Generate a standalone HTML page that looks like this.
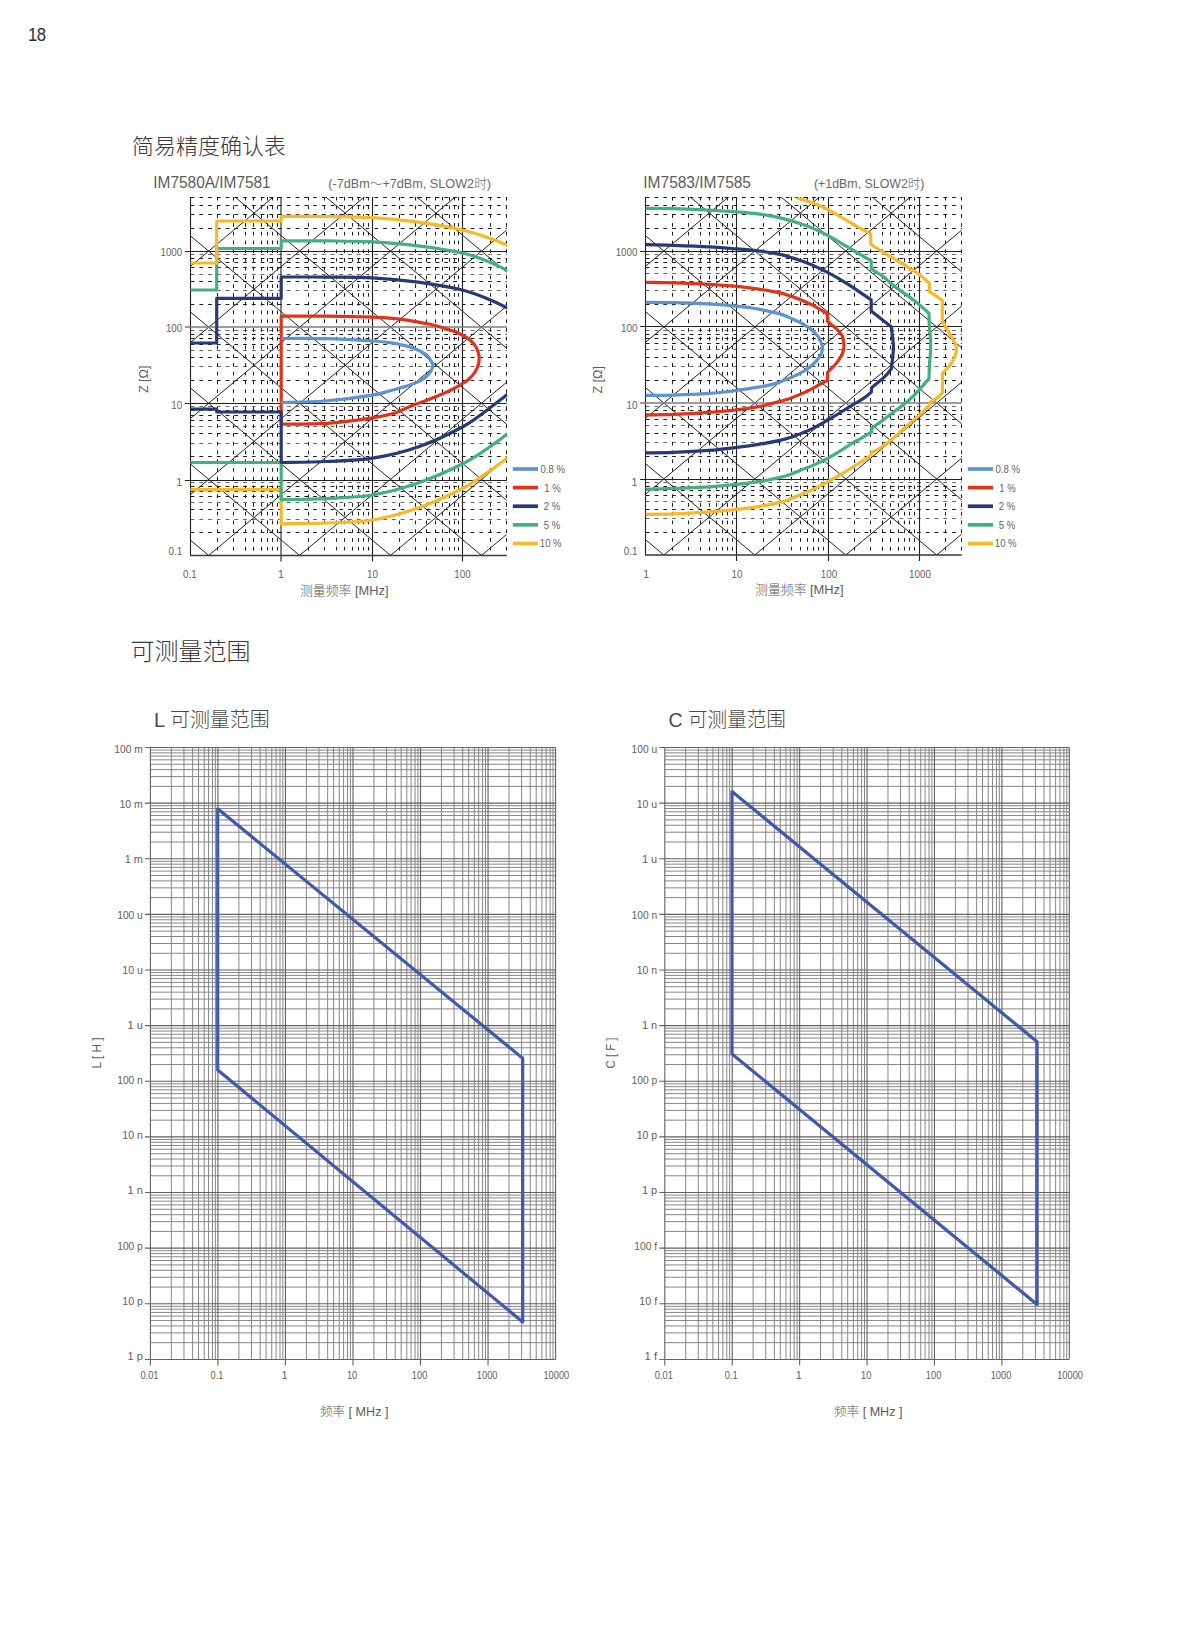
<!DOCTYPE html>
<html lang="zh-CN"><head><meta charset="utf-8"><title>简易精度确认表 / 可测量范围</title>
<style>
html,body{margin:0;padding:0;background:#fff;}
body{width:1199px;height:1627px;overflow:hidden;font-family:"Liberation Sans", "Noto Sans CJK SC", sans-serif;}
.page{position:relative;width:1199px;height:1627px;background:#fff;overflow:hidden;}
.pn{position:absolute;left:27.5px;top:21px;font-size:18px;line-height:28px;color:#2e2e2e;letter-spacing:-0.5px;transform:scaleX(0.93);transform-origin:0 0;}
h2{position:absolute;margin:0;font-weight:300;line-height:30px;color:#383838;white-space:nowrap;}
h2.a{left:132px;top:132.2px;font-size:22px;}h2.b{left:130.6px;top:637.4px;font-size:24px;}
svg{position:absolute;left:0;top:0;}
svg text{font-family:"Liberation Sans", "Noto Sans CJK SC", sans-serif;font-weight:300;}
.tk{font-size:10.7px;fill:#626262;}
.lg{font-size:10.6px;fill:#646464;}
.ax{font-size:12.6px;fill:#5e5e5e;}
.tt{font-size:16px;fill:#5c5c5c;}
.st{font-size:12.8px;fill:#686868;}
.tk2{font-size:10.9px;fill:#5e5e5e;}
.ax2{font-size:12.4px;fill:#5c5c5c;}
.bt{font-size:20px;fill:#4a4a4a;}
</style></head><body>
<div class="page">
<div class="pn">18</div>
<h2 class="a">简易精度确认表</h2>
<h2 class="b">可测量范围</h2>
<svg width="1199" height="1627" viewBox="0 0 1199 1627">
<g id="acc1">
<clipPath id="cp1"><rect x="190.3" y="197" width="317" height="358.5"/></clipPath>
<path d="M190.3 532.5H506.8M190.3 509.5H506.8M190.3 496.5H506.8M190.3 491.5H506.8M190.3 486.5H506.8M190.3 456.5H506.8M190.3 433.5H506.8M190.3 420.5H506.8M190.3 415.5H506.8M190.3 410.5H506.8M190.3 380.5H506.8M190.3 357.5H506.8M190.3 344.5H506.8M190.3 338.5H506.8M190.3 334.5H506.8M190.3 304.5H506.8M190.3 281.5H506.8M190.3 267.5H506.8M190.3 262.5H506.8M190.3 258.5H506.8M190.3 228.5H506.8M190.3 214.5H506.8M190.3 205.5H506.8M190.3 197.5H506.8" stroke="#1c1c1c" stroke-width="1" stroke-dasharray="3.8 4.95" stroke-dashoffset="-0.3" fill="none"/>
<path d="M190.3 519.5H506.8M190.3 502.5H506.8M190.3 482.5H506.8M190.3 443.5H506.8M190.3 426.5H506.8M190.3 406.5H506.8M190.3 366.5H506.8M190.3 350.5H506.8M190.3 330.5H506.8M190.3 290.5H506.8M190.3 274.5H506.8M190.3 254.5H506.8" stroke="#666" stroke-width="1.15" stroke-dasharray="3.8 4.95" stroke-dashoffset="-0.3" fill="none"/>
<path d="M217.5 197V555.5M233.5 197V555.5M245.5 197V555.5M253.5 197V555.5M261.5 197V555.5M267.5 197V555.5M272.5 197V555.5M277.5 197V555.5M308.5 197V555.5M324.5 197V555.5M336.5 197V555.5M344.5 197V555.5M352.5 197V555.5M358.5 197V555.5M363.5 197V555.5M368.5 197V555.5M399.5 197V555.5M415.5 197V555.5M426.5 197V555.5M435.5 197V555.5M442.5 197V555.5M449.5 197V555.5M454.5 197V555.5M458.5 197V555.5M490.5 197V555.5M506.5 197V555.5" stroke="#1c1c1c" stroke-width="1" stroke-dasharray="3.7 5.05" stroke-dashoffset="0.2" fill="none"/>
<path d="M190.3 -342.19L506.54 -606.72M190.3 844.39L506.54 1108.92M190.3 -266.11L506.54 -530.64M190.3 768.31L506.54 1032.84M190.3 -190.03L506.54 -454.56M190.3 692.23L506.54 956.76M190.3 -113.95L506.54 -378.48M190.3 616.15L506.54 880.68M190.3 -37.87L506.54 -302.4M190.3 540.07L506.54 804.6M190.3 38.21L506.54 -226.32M190.3 463.99L506.54 728.52M190.3 114.29L506.54 -150.24M190.3 387.91L506.54 652.44M190.3 190.37L506.54 -74.16M190.3 311.83L506.54 576.36M190.3 266.45L506.54 1.92M190.3 235.75L506.54 500.28M190.3 342.53L506.54 78M190.3 159.67L506.54 424.2M190.3 418.61L506.54 154.08M190.3 83.59L506.54 348.12M190.3 494.69L506.54 230.16M190.3 7.51L506.54 272.04M190.3 570.77L506.54 306.24M190.3 -68.57L506.54 195.96M190.3 646.85L506.54 382.32M190.3 -144.65L506.54 119.88M190.3 722.93L506.54 458.4M190.3 -220.73L506.54 43.8M190.3 799.01L506.54 534.48M190.3 -296.81L506.54 -32.28M190.3 875.09L506.54 610.56M190.3 -372.89L506.54 -108.36" stroke="#242424" stroke-width="1" fill="none" clip-path="url(#cp1)"/>
<path d="M184.8 480.5H506.8M184.8 403.5H506.8M184.8 251.5H506.8M281 197V561.5M372.5 197V561.5M462.5 197V561.5M190.5 197V556" stroke="#222" stroke-width="1.1" fill="none"/>
<path d="M184.8 327H506.8" stroke="#7d7d7d" stroke-width="1.7" fill="none"/>
<path d="M190.3 555.5H506.8" stroke="#3a3a3a" stroke-width="1.3" fill="none"/>
<g fill="none" stroke-width="3.2" stroke-linejoin="round" clip-path="url(#cp1)">
<path d="M190.3 489.6L281.2 489.6L281.2 523.8C288.83 523.67 311.78 523.63 327 523C342.22 522.37 357.33 522.5 372.5 520C387.67 517.5 402.88 513.33 418 508C433.12 502.67 451.03 494.33 463.2 488C475.37 481.67 483.62 475.03 491 470C498.38 464.97 504.75 459.83 507.5 457.8" stroke="#f7b925"/>
<path d="M190.3 462.5L281.2 462.5L281.2 499.7C288.83 499.52 311.78 499.38 327 498.6C342.22 497.82 357.33 497.6 372.5 495C387.67 492.4 402.88 488.25 418 483C433.12 477.75 451.03 469.67 463.2 463.5C475.37 457.33 483.62 450.95 491 446C498.38 441.05 504.75 435.83 507.5 433.8" stroke="#43b07f"/>
<path d="M281.2 424.2L281.2 316L281.2 316C288.83 316.03 311.78 316 327 316.2C342.22 316.4 361.17 316.8 372.5 317.2C383.83 317.6 388.75 318.03 395 318.6C401.25 319.17 404.17 319.65 410 320.6C415.83 321.55 423.33 322.73 430 324.3C436.67 325.87 444.58 328.18 450 330C455.42 331.82 459.17 333.53 462.5 335.2C465.83 336.87 467.75 338.03 470 340C472.25 341.97 474.5 344.33 476 347C477.5 349.67 478.58 353.17 479 356C479.42 358.83 479.17 361.33 478.5 364C477.83 366.67 476.58 369.5 475 372C473.42 374.5 471.08 377.08 469 379C466.92 380.92 465.67 381.58 462.5 383.5C459.33 385.42 455.42 387.92 450 390.5C444.58 393.08 436.67 396.33 430 399C423.33 401.67 415.83 404.17 410 406.5C404.17 408.83 401.25 411.12 395 413C388.75 414.88 383.83 416.08 372.5 417.8C361.17 419.52 342.22 422.23 327 423.3C311.78 424.37 288.83 424.05 281.2 424.2" stroke="#e3321a"/>
<path d="M190.3 409.2L216.7 409.2L216.7 412L281.2 412L281.2 462.5C288.83 462.33 311.78 462.22 327 461.5C342.22 460.78 357.33 460.62 372.5 458.2C387.67 455.78 402.88 452.28 418 447C433.12 441.72 451.03 433.17 463.2 426.5C475.37 419.83 483.62 412.37 491 407C498.38 401.63 504.75 396.42 507.5 394.3" stroke="#273a74"/>
<path d="M281.2 338.5C288.5 338.53 309.78 338.28 325 338.7C340.22 339.12 361.67 340.33 372.5 341C383.33 341.67 385.42 342.12 390 342.7C394.58 343.28 396.67 343.78 400 344.5C403.33 345.22 406.67 345.92 410 347C413.33 348.08 417.17 349.58 420 351C422.83 352.42 425.17 353.83 427 355.5C428.83 357.17 430.03 359.33 431 361C431.97 362.67 432.8 363.83 432.8 365.5C432.8 367.17 431.97 369.25 431 371C430.03 372.75 428.83 374.37 427 376C425.17 377.63 422.83 379.3 420 380.8C417.17 382.3 413.33 383.8 410 385C406.67 386.2 403.33 387.05 400 388C396.67 388.95 394.58 389.5 390 390.7C385.42 391.9 383.33 393.48 372.5 395.2C361.67 396.92 340.22 399.78 325 401C309.78 402.22 288.5 402.25 281.2 402.5" stroke="#5f93cf"/>
<path d="M190.3 343L216.7 343L216.7 298.3L281.2 298.3L281.2 277C288.83 277.02 311.78 276.97 327 277.1C342.22 277.23 357.33 276.95 372.5 277.8C387.67 278.65 402.88 280.13 418 282.2C433.12 284.27 451.03 287.2 463.2 290.2C475.37 293.2 483.62 297.23 491 300.2C498.38 303.17 504.75 306.7 507.5 308" stroke="#273a74"/>
<path d="M190.3 290L216.7 290L216.7 248.5L281.2 248.5L281.2 240.8C288.83 240.82 311.78 240.72 327 240.9C342.22 241.08 357.33 241.08 372.5 241.9C387.67 242.72 402.88 243.92 418 245.8C433.12 247.68 451.03 250.38 463.2 253.2C475.37 256.02 483.62 259.8 491 262.7C498.38 265.6 504.75 269.28 507.5 270.6" stroke="#43b07f"/>
<path d="M190.3 263L216.7 263L216.7 221L281.2 221L281.2 216.4C288.83 216.42 311.78 216.3 327 216.5C342.22 216.7 357.33 216.65 372.5 217.6C387.67 218.55 402.88 220.1 418 222.2C433.12 224.3 451.03 227.45 463.2 230.2C475.37 232.95 483.62 236.2 491 238.7C498.38 241.2 504.75 244.12 507.5 245.2" stroke="#f7b925"/>
</g>
<path d="M512.8 469H538" stroke="#5f93cf" stroke-width="3.7"/>
<text x="540.5" y="472.9" class="lg" textLength="24.56" lengthAdjust="spacingAndGlyphs">0.8 %</text>
<path d="M512.8 487.62H538" stroke="#e3321a" stroke-width="3.7"/>
<text x="544.2" y="491.52" class="lg" textLength="16.49" lengthAdjust="spacingAndGlyphs">1 %</text>
<path d="M512.8 506.24H538" stroke="#273a74" stroke-width="3.7"/>
<text x="543.8" y="510.14" class="lg" textLength="16.49" lengthAdjust="spacingAndGlyphs">2 %</text>
<path d="M512.8 524.86H538" stroke="#43b07f" stroke-width="3.7"/>
<text x="543.8" y="528.76" class="lg" textLength="16.49" lengthAdjust="spacingAndGlyphs">5 %</text>
<path d="M512.8 543.48H538" stroke="#f7b925" stroke-width="3.7"/>
<text x="539.8" y="547.38" class="lg" textLength="21.86" lengthAdjust="spacingAndGlyphs">10 %</text>
<text x="182.3" y="255.6" class="tk" text-anchor="end" textLength="21.87" lengthAdjust="spacingAndGlyphs">1000</text>
<text x="182.3" y="331.57" class="tk" text-anchor="end" textLength="16.4" lengthAdjust="spacingAndGlyphs">100</text>
<text x="182.3" y="408.54" class="tk" text-anchor="end" textLength="10.93" lengthAdjust="spacingAndGlyphs">10</text>
<text x="182.3" y="486.01" class="tk" text-anchor="end">1</text>
<text x="182.3" y="554.9" class="tk" text-anchor="end" textLength="13.68" lengthAdjust="spacingAndGlyphs">0.1</text>
<text x="189.8" y="577.9" class="tk" text-anchor="middle" textLength="13.68" lengthAdjust="spacingAndGlyphs">0.1</text>
<text x="281" y="577.9" class="tk" text-anchor="middle">1</text>
<text x="372.5" y="577.9" class="tk" text-anchor="middle" textLength="10.93" lengthAdjust="spacingAndGlyphs">10</text>
<text x="462.5" y="577.9" class="tk" text-anchor="middle" textLength="16.4" lengthAdjust="spacingAndGlyphs">100</text>
<text x="344.25" y="594.7" class="ax" text-anchor="middle" textLength="88.5" lengthAdjust="spacingAndGlyphs">测量频率 [MHz]</text>
<text transform="translate(148.3 379.3) rotate(-90)" class="ax" text-anchor="middle" textLength="27.5" lengthAdjust="spacingAndGlyphs">Z [Ω]</text>
<text x="153.3" y="188.3" class="tt" textLength="117.4" lengthAdjust="spacingAndGlyphs">IM7580A/IM7581</text>
<text x="328.3" y="188" class="st" textLength="162.7" lengthAdjust="spacingAndGlyphs">(-7dBm～+7dBm, SLOW2时)</text>
</g>
<g id="acc2">
<clipPath id="cp2"><rect x="645.5" y="197" width="316.8" height="358"/></clipPath>
<path d="M645.5 532.5H961.8M645.5 509.5H961.8M645.5 495.5H961.8M645.5 490.5H961.8M645.5 486.5H961.8M645.5 456.5H961.8M645.5 433.5H961.8M645.5 419.5H961.8M645.5 414.5H961.8M645.5 410.5H961.8M645.5 380.5H961.8M645.5 357.5H961.8M645.5 343.5H961.8M645.5 338.5H961.8M645.5 334.5H961.8M645.5 304.5H961.8M645.5 281.5H961.8M645.5 267.5H961.8M645.5 262.5H961.8M645.5 258.5H961.8M645.5 228.5H961.8M645.5 214.5H961.8M645.5 205.5H961.8M645.5 197.5H961.8" stroke="#1c1c1c" stroke-width="1" stroke-dasharray="3.8 4.95" stroke-dashoffset="-0.3" fill="none"/>
<path d="M645.5 518.5H961.8M645.5 501.5H961.8M645.5 482.5H961.8M645.5 442.5H961.8M645.5 425.5H961.8M645.5 406.5H961.8M645.5 366.5H961.8M645.5 349.5H961.8M645.5 330.5H961.8M645.5 290.5H961.8M645.5 273.5H961.8M645.5 254.5H961.8" stroke="#666" stroke-width="1.15" stroke-dasharray="3.8 4.95" stroke-dashoffset="-0.3" fill="none"/>
<path d="M672.5 197V555M688.5 197V555M700.5 197V555M709.5 197V555M716.5 197V555M722.5 197V555M727.5 197V555M732.5 197V555M763.5 197V555M779.5 197V555M791.5 197V555M800.5 197V555M807.5 197V555M813.5 197V555M818.5 197V555M823.5 197V555M854.5 197V555M870.5 197V555M882.5 197V555M890.5 197V555M898.5 197V555M904.5 197V555M909.5 197V555M914.5 197V555M945.5 197V555M961.5 197V555" stroke="#1c1c1c" stroke-width="1" stroke-dasharray="3.7 5.05" stroke-dashoffset="0.2" fill="none"/>
<path d="M645.5 -417.66L961.74 -681.92M645.5 919.66L961.74 1183.92M645.5 -341.66L961.74 -605.92M645.5 843.66L961.74 1107.92M645.5 -265.66L961.74 -529.92M645.5 767.66L961.74 1031.92M645.5 -189.66L961.74 -453.92M645.5 691.66L961.74 955.92M645.5 -113.66L961.74 -377.92M645.5 615.66L961.74 879.92M645.5 -37.66L961.74 -301.92M645.5 539.66L961.74 803.92M645.5 38.34L961.74 -225.92M645.5 463.66L961.74 727.92M645.5 114.34L961.74 -149.92M645.5 387.66L961.74 651.92M645.5 190.34L961.74 -73.92M645.5 311.66L961.74 575.92M645.5 266.34L961.74 2.08M645.5 235.66L961.74 499.92M645.5 342.34L961.74 78.08M645.5 159.66L961.74 423.92M645.5 418.34L961.74 154.08M645.5 83.66L961.74 347.92M645.5 494.34L961.74 230.08M645.5 7.66L961.74 271.92M645.5 570.34L961.74 306.08M645.5 -68.34L961.74 195.92M645.5 646.34L961.74 382.08M645.5 -144.34L961.74 119.92M645.5 722.34L961.74 458.08M645.5 -220.34L961.74 43.92M645.5 798.34L961.74 534.08M645.5 -296.34L961.74 -32.08" stroke="#242424" stroke-width="1" fill="none" clip-path="url(#cp2)"/>
<path d="M640 479.5H961.8M640 326.5H961.8M640 251.5H961.8M736.5 197V561M828.5 197V561M919.5 197V561M645.5 197V555.5" stroke="#222" stroke-width="1.1" fill="none"/>
<path d="M640 403H961.8" stroke="#7d7d7d" stroke-width="1.7" fill="none"/>
<path d="M645.5 555H961.8" stroke="#3a3a3a" stroke-width="1.3" fill="none"/>
<g fill="none" stroke-width="3.2" stroke-linejoin="round" clip-path="url(#cp2)" transform="translate(0 0.4)">
<path d="M645.5 302C650.08 302.03 662.42 301.95 673 302.2C683.58 302.45 698.42 302.9 709 303.5C719.58 304.1 728 304.88 736.5 305.8C745 306.72 752.75 307.72 760 309C767.25 310.28 775 312.08 780 313.5C785 314.92 786.67 316.08 790 317.5C793.33 318.92 796.67 320.25 800 322C803.33 323.75 807 325.67 810 328C813 330.33 816.08 333.5 818 336C819.92 338.5 820.75 341 821.5 343C822.25 345 822.58 346.17 822.5 348C822.42 349.83 822.08 351.83 821 354C819.92 356.17 818.17 358.67 816 361C813.83 363.33 810.67 366 808 368C805.33 370 803 371.42 800 373C797 374.58 793.33 376.08 790 377.5C786.67 378.92 783.33 380.33 780 381.5C776.67 382.67 773.33 383.67 770 384.5C766.67 385.33 765.58 385.58 760 386.5C754.42 387.42 745 388.92 736.5 390C728 391.08 719.58 392.22 709 393C698.42 393.78 683.58 394.37 673 394.7C662.42 395.03 650.08 394.95 645.5 395" stroke="#5f93cf"/>
<path d="M645.5 282C650.08 282.08 662.42 282.17 673 282.5C683.58 282.83 698.42 283.42 709 284C719.58 284.58 728 285.17 736.5 286C745 286.83 752.75 287.92 760 289C767.25 290.08 774.78 291.33 780 292.5C785.22 293.67 787.97 294.92 791.3 296C794.63 297.08 796.38 297.5 800 299C803.62 300.5 808.4 302.58 813 305C817.6 307.42 825.17 312.08 827.6 313.5L827.6 321C828.17 321.5 829.6 322.83 831 324C832.4 325.17 834.17 326.17 836 328C837.83 329.83 840.67 332.33 842 335C843.33 337.67 843.92 341 844 344C844.08 347 843.67 350 842.5 353C841.33 356 838.92 359.42 837 362C835.08 364.58 832.57 366.83 831 368.5C829.43 370.17 828.17 371.42 827.6 372L827.6 380C826.33 380.67 822.93 382.42 820 384C817.07 385.58 813.33 387.83 810 389.5C806.67 391.17 803.33 392.58 800 394C796.67 395.42 793.33 396.83 790 398C786.67 399.17 783.33 400.08 780 401C776.67 401.92 773.33 402.67 770 403.5C766.67 404.33 765.58 405 760 406C754.42 407 745 408.5 736.5 409.5C728 410.5 719.58 411.25 709 412C698.42 412.75 683.58 413.58 673 414C662.42 414.42 650.08 414.42 645.5 414.5" stroke="#e3321a"/>
<path d="M645.5 244.2C650.08 244.33 662.42 244.62 673 245C683.58 245.38 698.42 245.92 709 246.5C719.58 247.08 728 247.8 736.5 248.5C745 249.2 752.75 249.78 760 250.7C767.25 251.62 774.78 252.92 780 254C785.22 255.08 787.97 256.2 791.3 257.2C794.63 258.2 796.38 258.7 800 260C803.62 261.3 808.25 262.92 813 265C817.75 267.08 823.17 269.67 828.5 272.5C833.83 275.33 840.58 279.33 845 282C849.42 284.67 850.63 285.58 855 288.5C859.37 291.42 868.5 297.67 871.2 299.5L871.2 310.5L891.5 326.5L891.5 326.5C891.63 327.92 891.97 331.58 892.3 335C892.63 338.42 893.47 343.17 893.5 347C893.53 350.83 892.83 354.5 892.5 358C892.17 361.5 891.67 366.33 891.5 368L891.5 368C890.42 369.33 888.33 372.75 885 376C881.67 379.25 873.75 385.58 871.5 387.5L871.5 391.5C870.42 392.42 867.75 395.08 865 397C862.25 398.92 858.33 400.95 855 403C851.67 405.05 849.42 406.58 845 409.3C840.58 412.02 833.83 416.18 828.5 419.3C823.17 422.42 817.75 425.63 813 428C808.25 430.37 803.62 432.03 800 433.5C796.38 434.97 794.63 435.72 791.3 436.8C787.97 437.88 785.22 438.85 780 440C774.78 441.15 767.25 442.53 760 443.7C752.75 444.87 745 445.95 736.5 447C728 448.05 719.58 449.17 709 450C698.42 450.83 683.58 451.58 673 452C662.42 452.42 650.08 452.42 645.5 452.5" stroke="#273a74"/>
<path d="M645.5 208C650.08 208.03 662.42 207.9 673 208.2C683.58 208.5 698.42 209.25 709 209.8C719.58 210.35 728 210.83 736.5 211.5C745 212.17 752.75 212.8 760 213.8C767.25 214.8 774.78 216.38 780 217.5C785.22 218.62 787.97 219.58 791.3 220.5C794.63 221.42 796.38 221.75 800 223C803.62 224.25 808.25 225.92 813 228C817.75 230.08 823.17 232.67 828.5 235.5C833.83 238.33 840.58 242.42 845 245C849.42 247.58 850.63 248.42 855 251C859.37 253.58 868.5 258.92 871.2 260.5L871.2 268.5C873.17 269.75 879.7 273.58 883 276C886.3 278.42 888.17 280.67 891 283C893.83 285.33 896.83 287.67 900 290C903.17 292.33 906.83 294.67 910 297C913.17 299.33 915.83 301.33 919 304C922.17 306.67 927.33 311.5 929 313L929 313C929.05 315 929.05 320.5 929.3 325C929.55 329.5 930.3 335.5 930.5 340C930.7 344.5 930.67 348 930.5 352C930.33 356 929.75 359.67 929.5 364C929.25 368.33 929.08 375.67 929 378L929 378C928.17 379 925.58 382.17 924 384C922.42 385.83 921.17 387.17 919.5 389C917.83 390.83 916.42 392.67 914 395C911.58 397.33 908.5 400.17 905 403C901.5 405.83 897.17 408.83 893 412C888.83 415.17 883.58 419.33 880 422C876.42 424.67 872.92 427 871.5 428L871.5 431.5C869.58 432.67 862.75 436.92 860 438.5C857.25 440.08 857.5 439.5 855 441C852.5 442.5 849.42 444.75 845 447.5C840.58 450.25 833.83 454.58 828.5 457.5C823.17 460.42 817.75 462.92 813 465C808.25 467.08 803.62 468.58 800 470C796.38 471.42 794.63 472.33 791.3 473.5C787.97 474.67 785.22 475.75 780 477C774.78 478.25 767.25 479.83 760 481C752.75 482.17 745 483.08 736.5 484C728 484.92 719.58 485.83 709 486.5C698.42 487.17 683.58 487.58 673 488C662.42 488.42 650.08 488.83 645.5 489" stroke="#43b07f"/>
<path d="M785 191.5C787.33 192.58 794.33 196.17 799 198C803.67 199.83 808.08 200.58 813 202.5C817.92 204.42 821.5 205.75 828.5 209.5C835.5 213.25 847.97 221 855 225C862.03 229 868.08 232.08 870.7 233.5L870.7 244C873.08 245.5 880.12 250 885 253C889.88 256 894.33 258.5 900 262C905.67 265.5 914.12 270.5 919 274C923.88 277.5 927.58 281.5 929.3 283L929.3 291L942.3 300L942.3 320C943.08 321.5 945.22 325.83 947 329C948.78 332.17 951.42 336 953 339C954.58 342 956.25 344 956.5 347C956.75 350 955.75 353.83 954.5 357C953.25 360.17 951 363.33 949 366C947 368.67 943.58 371.83 942.5 373L942.5 392.3C941.42 393.32 938.17 396.73 936 398.4C933.83 400.07 930.58 401.65 929.5 402.3L929.2 405.2C927.58 406.78 922.7 411.77 919.5 414.7C916.3 417.63 913.25 419.97 910 422.8C906.75 425.63 903.33 428.73 900 431.7C896.67 434.67 893.33 437.95 890 440.6C886.67 443.25 883.08 445.65 880 447.6C876.92 449.55 872.92 451.52 871.5 452.3L870.8 455C869 456.22 862.63 460.58 860 462.3C857.37 464.02 857.5 463.77 855 465.3C852.5 466.83 849.42 468.88 845 471.5C840.58 474.12 833.83 478.08 828.5 481C823.17 483.92 817.75 486.75 813 489C808.25 491.25 803.62 493 800 494.5C796.38 496 794.63 496.75 791.3 498C787.97 499.25 785.22 500.67 780 502C774.78 503.33 767.25 504.83 760 506C752.75 507.17 745 508.08 736.5 509C728 509.92 719.58 510.75 709 511.5C698.42 512.25 683.58 513.08 673 513.5C662.42 513.92 650.08 513.92 645.5 514" stroke="#f7b925"/>
</g>
<path d="M967.8 469H993" stroke="#5f93cf" stroke-width="3.7"/>
<text x="995.5" y="472.9" class="lg" textLength="24.56" lengthAdjust="spacingAndGlyphs">0.8 %</text>
<path d="M967.8 487.62H993" stroke="#e3321a" stroke-width="3.7"/>
<text x="999.2" y="491.52" class="lg" textLength="16.49" lengthAdjust="spacingAndGlyphs">1 %</text>
<path d="M967.8 506.24H993" stroke="#273a74" stroke-width="3.7"/>
<text x="998.8" y="510.14" class="lg" textLength="16.49" lengthAdjust="spacingAndGlyphs">2 %</text>
<path d="M967.8 524.86H993" stroke="#43b07f" stroke-width="3.7"/>
<text x="998.8" y="528.76" class="lg" textLength="16.49" lengthAdjust="spacingAndGlyphs">5 %</text>
<path d="M967.8 543.48H993" stroke="#f7b925" stroke-width="3.7"/>
<text x="994.8" y="547.38" class="lg" textLength="21.86" lengthAdjust="spacingAndGlyphs">10 %</text>
<text x="637.5" y="256.2" class="tk" text-anchor="end" textLength="21.87" lengthAdjust="spacingAndGlyphs">1000</text>
<text x="637.5" y="331.67" class="tk" text-anchor="end" textLength="16.4" lengthAdjust="spacingAndGlyphs">100</text>
<text x="637.5" y="408.64" class="tk" text-anchor="end" textLength="10.93" lengthAdjust="spacingAndGlyphs">10</text>
<text x="637.5" y="485.61" class="tk" text-anchor="end">1</text>
<text x="637.5" y="555.2" class="tk" text-anchor="end" textLength="13.68" lengthAdjust="spacingAndGlyphs">0.1</text>
<text x="646.3" y="578.2" class="tk" text-anchor="middle">1</text>
<text x="737" y="578.2" class="tk" text-anchor="middle" textLength="10.93" lengthAdjust="spacingAndGlyphs">10</text>
<text x="829" y="578.2" class="tk" text-anchor="middle" textLength="16.4" lengthAdjust="spacingAndGlyphs">100</text>
<text x="920" y="578.2" class="tk" text-anchor="middle" textLength="21.87" lengthAdjust="spacingAndGlyphs">1000</text>
<text x="799.35" y="594.2" class="ax" text-anchor="middle" textLength="88.5" lengthAdjust="spacingAndGlyphs">测量频率 [MHz]</text>
<text transform="translate(602.3 379.85) rotate(-90)" class="ax" text-anchor="middle" textLength="27.5" lengthAdjust="spacingAndGlyphs">Z [Ω]</text>
<text x="643.3" y="188.3" class="tt" textLength="107.7" lengthAdjust="spacingAndGlyphs">IM7583/IM7585</text>
<text x="814" y="188" class="st" textLength="110.3" lengthAdjust="spacingAndGlyphs">(+1dBm, SLOW2时)</text>
</g>
<g id="rng1">
<path d="M171.33 747.5V1359.43M183.96 747.5V1359.43M192.61 747.5V1359.43M198.55 747.5V1359.43M204.22 747.5V1359.43M208.54 747.5V1359.43M212.46 747.5V1359.43M215.36 747.5V1359.43M238.86 747.5V1359.43M251.49 747.5V1359.43M260.14 747.5V1359.43M266.08 747.5V1359.43M271.75 747.5V1359.43M276.07 747.5V1359.43M279.99 747.5V1359.43M282.89 747.5V1359.43M306.39 747.5V1359.43M319.02 747.5V1359.43M327.67 747.5V1359.43M333.61 747.5V1359.43M339.28 747.5V1359.43M343.6 747.5V1359.43M347.52 747.5V1359.43M350.42 747.5V1359.43M373.92 747.5V1359.43M386.55 747.5V1359.43M395.2 747.5V1359.43M401.14 747.5V1359.43M406.81 747.5V1359.43M411.13 747.5V1359.43M415.05 747.5V1359.43M417.95 747.5V1359.43M441.45 747.5V1359.43M454.08 747.5V1359.43M462.73 747.5V1359.43M468.67 747.5V1359.43M474.34 747.5V1359.43M478.66 747.5V1359.43M482.58 747.5V1359.43M485.48 747.5V1359.43M508.98 747.5V1359.43M521.61 747.5V1359.43M530.26 747.5V1359.43M536.2 747.5V1359.43M541.87 747.5V1359.43M546.19 747.5V1359.43M550.11 747.5V1359.43M553.01 747.5V1359.43M150.4 786.38H555.58M150.4 776.59H555.58M150.4 769.64H555.58M150.4 764.25H555.58M150.4 759.84H555.58M150.4 756.12H555.58M150.4 752.89H555.58M150.4 750.05H555.58M150.4 842.01H555.58M150.4 832.22H555.58M150.4 825.27H555.58M150.4 819.88H555.58M150.4 815.47H555.58M150.4 811.75H555.58M150.4 808.52H555.58M150.4 805.68H555.58M150.4 897.64H555.58M150.4 887.85H555.58M150.4 880.9H555.58M150.4 875.51H555.58M150.4 871.1H555.58M150.4 867.38H555.58M150.4 864.15H555.58M150.4 861.31H555.58M150.4 953.27H555.58M150.4 943.48H555.58M150.4 936.53H555.58M150.4 931.14H555.58M150.4 926.73H555.58M150.4 923.01H555.58M150.4 919.78H555.58M150.4 916.94H555.58M150.4 1008.9H555.58M150.4 999.11H555.58M150.4 992.16H555.58M150.4 986.77H555.58M150.4 982.36H555.58M150.4 978.64H555.58M150.4 975.41H555.58M150.4 972.57H555.58M150.4 1064.53H555.58M150.4 1054.74H555.58M150.4 1047.79H555.58M150.4 1042.4H555.58M150.4 1037.99H555.58M150.4 1034.27H555.58M150.4 1031.04H555.58M150.4 1028.2H555.58M150.4 1120.16H555.58M150.4 1110.37H555.58M150.4 1103.42H555.58M150.4 1098.03H555.58M150.4 1093.62H555.58M150.4 1089.9H555.58M150.4 1086.67H555.58M150.4 1083.83H555.58M150.4 1175.79H555.58M150.4 1166H555.58M150.4 1159.05H555.58M150.4 1153.66H555.58M150.4 1149.25H555.58M150.4 1145.53H555.58M150.4 1142.3H555.58M150.4 1139.46H555.58M150.4 1231.42H555.58M150.4 1221.63H555.58M150.4 1214.68H555.58M150.4 1209.29H555.58M150.4 1204.88H555.58M150.4 1201.16H555.58M150.4 1197.93H555.58M150.4 1195.09H555.58M150.4 1287.05H555.58M150.4 1277.26H555.58M150.4 1270.31H555.58M150.4 1264.92H555.58M150.4 1260.51H555.58M150.4 1256.79H555.58M150.4 1253.56H555.58M150.4 1250.72H555.58M150.4 1342.68H555.58M150.4 1332.89H555.58M150.4 1325.94H555.58M150.4 1320.55H555.58M150.4 1316.14H555.58M150.4 1312.42H555.58M150.4 1309.19H555.58M150.4 1306.35H555.58" stroke="#868686" stroke-width="1" fill="none"/>
<path d="M150.4 747.5V1365.43M217.93 747.5V1365.43M285.46 747.5V1365.43M352.99 747.5V1365.43M420.52 747.5V1365.43M488.05 747.5V1365.43M555.58 747.5V1359.43M144.9 747.5H555.58M144.9 803.13H555.58M144.9 858.76H555.58M144.9 914.39H555.58M144.9 970.02H555.58M144.9 1025.65H555.58M144.9 1081.28H555.58M144.9 1136.91H555.58M144.9 1192.54H555.58M144.9 1248.17H555.58M144.9 1303.8H555.58M144.9 1359.43H555.58" stroke="#626262" stroke-width="1.1" fill="none"/>
<path d="M217.7 808.8L522.7 1058.3L522.7 1322L217.7 1070 Z" stroke="#4159a8" stroke-width="3.2" fill="none" stroke-linejoin="round"/>
<text x="142.8" y="753" class="tk2" text-anchor="end" textLength="28.51" lengthAdjust="spacingAndGlyphs">100 m</text>
<text x="142.8" y="808.18" class="tk2" text-anchor="end" textLength="23.34" lengthAdjust="spacingAndGlyphs">10 m</text>
<text x="142.8" y="863.36" class="tk2" text-anchor="end" textLength="18.17" lengthAdjust="spacingAndGlyphs">1 m</text>
<text x="142.8" y="918.54" class="tk2" text-anchor="end" textLength="25.59" lengthAdjust="spacingAndGlyphs">100 u</text>
<text x="142.8" y="973.72" class="tk2" text-anchor="end" textLength="20.43" lengthAdjust="spacingAndGlyphs">10 u</text>
<text x="142.8" y="1028.9" class="tk2" text-anchor="end" textLength="15.26" lengthAdjust="spacingAndGlyphs">1 u</text>
<text x="142.8" y="1084.08" class="tk2" text-anchor="end" textLength="25.59" lengthAdjust="spacingAndGlyphs">100 n</text>
<text x="142.8" y="1139.26" class="tk2" text-anchor="end" textLength="20.43" lengthAdjust="spacingAndGlyphs">10 n</text>
<text x="142.8" y="1194.44" class="tk2" text-anchor="end" textLength="15.26" lengthAdjust="spacingAndGlyphs">1 n</text>
<text x="142.8" y="1249.62" class="tk2" text-anchor="end" textLength="25.59" lengthAdjust="spacingAndGlyphs">100 p</text>
<text x="142.8" y="1304.8" class="tk2" text-anchor="end" textLength="20.43" lengthAdjust="spacingAndGlyphs">10 p</text>
<text x="142.8" y="1359.98" class="tk2" text-anchor="end" textLength="15.26" lengthAdjust="spacingAndGlyphs">1 p</text>
<text x="149.5" y="1379.43" class="tk2" text-anchor="middle" textLength="18.11" lengthAdjust="spacingAndGlyphs">0.01</text>
<text x="217.03" y="1379.43" class="tk2" text-anchor="middle" textLength="12.94" lengthAdjust="spacingAndGlyphs">0.1</text>
<text x="284.56" y="1379.43" class="tk2" text-anchor="middle">1</text>
<text x="352.09" y="1379.43" class="tk2" text-anchor="middle" textLength="10.34" lengthAdjust="spacingAndGlyphs">10</text>
<text x="419.62" y="1379.43" class="tk2" text-anchor="middle" textLength="15.51" lengthAdjust="spacingAndGlyphs">100</text>
<text x="487.15" y="1379.43" class="tk2" text-anchor="middle" textLength="20.68" lengthAdjust="spacingAndGlyphs">1000</text>
<text x="556.38" y="1379.43" class="tk2" text-anchor="middle" textLength="25.84" lengthAdjust="spacingAndGlyphs">10000</text>
<text x="354.19" y="1415.63" class="ax2" text-anchor="middle" textLength="68.5" lengthAdjust="spacingAndGlyphs">频率 [ MHz ]</text>
<text transform="translate(100.6 1052.97) rotate(-90)" class="ax2" text-anchor="middle" textLength="31" lengthAdjust="spacingAndGlyphs">L [ H ]</text>
<text x="154" y="727.2" class="bt" textLength="115.8" lengthAdjust="spacingAndGlyphs">L 可测量范围</text>
</g>
<g id="rng2">
<path d="M685.7 747.5V1359.43M698.31 747.5V1359.43M706.94 747.5V1359.43M712.87 747.5V1359.43M718.53 747.5V1359.43M722.85 747.5V1359.43M726.76 747.5V1359.43M729.66 747.5V1359.43M753.12 747.5V1359.43M765.73 747.5V1359.43M774.36 747.5V1359.43M780.29 747.5V1359.43M785.95 747.5V1359.43M790.27 747.5V1359.43M794.18 747.5V1359.43M797.08 747.5V1359.43M820.54 747.5V1359.43M833.15 747.5V1359.43M841.78 747.5V1359.43M847.71 747.5V1359.43M853.37 747.5V1359.43M857.69 747.5V1359.43M861.6 747.5V1359.43M864.5 747.5V1359.43M887.96 747.5V1359.43M900.57 747.5V1359.43M909.2 747.5V1359.43M915.13 747.5V1359.43M920.79 747.5V1359.43M925.11 747.5V1359.43M929.02 747.5V1359.43M931.92 747.5V1359.43M955.38 747.5V1359.43M967.99 747.5V1359.43M976.62 747.5V1359.43M982.55 747.5V1359.43M988.21 747.5V1359.43M992.53 747.5V1359.43M996.44 747.5V1359.43M999.34 747.5V1359.43M1022.8 747.5V1359.43M1035.41 747.5V1359.43M1044.04 747.5V1359.43M1049.97 747.5V1359.43M1055.63 747.5V1359.43M1059.95 747.5V1359.43M1063.86 747.5V1359.43M1066.76 747.5V1359.43M664.8 786.38H1069.32M664.8 776.59H1069.32M664.8 769.64H1069.32M664.8 764.25H1069.32M664.8 759.84H1069.32M664.8 756.12H1069.32M664.8 752.89H1069.32M664.8 750.05H1069.32M664.8 842.01H1069.32M664.8 832.22H1069.32M664.8 825.27H1069.32M664.8 819.88H1069.32M664.8 815.47H1069.32M664.8 811.75H1069.32M664.8 808.52H1069.32M664.8 805.68H1069.32M664.8 897.64H1069.32M664.8 887.85H1069.32M664.8 880.9H1069.32M664.8 875.51H1069.32M664.8 871.1H1069.32M664.8 867.38H1069.32M664.8 864.15H1069.32M664.8 861.31H1069.32M664.8 953.27H1069.32M664.8 943.48H1069.32M664.8 936.53H1069.32M664.8 931.14H1069.32M664.8 926.73H1069.32M664.8 923.01H1069.32M664.8 919.78H1069.32M664.8 916.94H1069.32M664.8 1008.9H1069.32M664.8 999.11H1069.32M664.8 992.16H1069.32M664.8 986.77H1069.32M664.8 982.36H1069.32M664.8 978.64H1069.32M664.8 975.41H1069.32M664.8 972.57H1069.32M664.8 1064.53H1069.32M664.8 1054.74H1069.32M664.8 1047.79H1069.32M664.8 1042.4H1069.32M664.8 1037.99H1069.32M664.8 1034.27H1069.32M664.8 1031.04H1069.32M664.8 1028.2H1069.32M664.8 1120.16H1069.32M664.8 1110.37H1069.32M664.8 1103.42H1069.32M664.8 1098.03H1069.32M664.8 1093.62H1069.32M664.8 1089.9H1069.32M664.8 1086.67H1069.32M664.8 1083.83H1069.32M664.8 1175.79H1069.32M664.8 1166H1069.32M664.8 1159.05H1069.32M664.8 1153.66H1069.32M664.8 1149.25H1069.32M664.8 1145.53H1069.32M664.8 1142.3H1069.32M664.8 1139.46H1069.32M664.8 1231.42H1069.32M664.8 1221.63H1069.32M664.8 1214.68H1069.32M664.8 1209.29H1069.32M664.8 1204.88H1069.32M664.8 1201.16H1069.32M664.8 1197.93H1069.32M664.8 1195.09H1069.32M664.8 1287.05H1069.32M664.8 1277.26H1069.32M664.8 1270.31H1069.32M664.8 1264.92H1069.32M664.8 1260.51H1069.32M664.8 1256.79H1069.32M664.8 1253.56H1069.32M664.8 1250.72H1069.32M664.8 1342.68H1069.32M664.8 1332.89H1069.32M664.8 1325.94H1069.32M664.8 1320.55H1069.32M664.8 1316.14H1069.32M664.8 1312.42H1069.32M664.8 1309.19H1069.32M664.8 1306.35H1069.32" stroke="#868686" stroke-width="1" fill="none"/>
<path d="M664.8 747.5V1365.43M732.22 747.5V1365.43M799.64 747.5V1365.43M867.06 747.5V1365.43M934.48 747.5V1365.43M1001.9 747.5V1365.43M1069.32 747.5V1359.43M659.3 747.5H1069.32M659.3 803.13H1069.32M659.3 858.76H1069.32M659.3 914.39H1069.32M659.3 970.02H1069.32M659.3 1025.65H1069.32M659.3 1081.28H1069.32M659.3 1136.91H1069.32M659.3 1192.54H1069.32M659.3 1248.17H1069.32M659.3 1303.8H1069.32M659.3 1359.43H1069.32" stroke="#626262" stroke-width="1.1" fill="none"/>
<path d="M732 791.5L1037.1 1041.7L1037.1 1304.5L732 1054 Z" stroke="#4159a8" stroke-width="3.2" fill="none" stroke-linejoin="round"/>
<text x="657.2" y="753" class="tk2" text-anchor="end" textLength="25.59" lengthAdjust="spacingAndGlyphs">100 u</text>
<text x="657.2" y="808.18" class="tk2" text-anchor="end" textLength="20.43" lengthAdjust="spacingAndGlyphs">10 u</text>
<text x="657.2" y="863.36" class="tk2" text-anchor="end" textLength="15.26" lengthAdjust="spacingAndGlyphs">1 u</text>
<text x="657.2" y="918.54" class="tk2" text-anchor="end" textLength="25.59" lengthAdjust="spacingAndGlyphs">100 n</text>
<text x="657.2" y="973.72" class="tk2" text-anchor="end" textLength="20.43" lengthAdjust="spacingAndGlyphs">10 n</text>
<text x="657.2" y="1028.9" class="tk2" text-anchor="end" textLength="15.26" lengthAdjust="spacingAndGlyphs">1 n</text>
<text x="657.2" y="1084.08" class="tk2" text-anchor="end" textLength="25.59" lengthAdjust="spacingAndGlyphs">100 p</text>
<text x="657.2" y="1139.26" class="tk2" text-anchor="end" textLength="20.43" lengthAdjust="spacingAndGlyphs">10 p</text>
<text x="657.2" y="1194.44" class="tk2" text-anchor="end" textLength="15.26" lengthAdjust="spacingAndGlyphs">1 p</text>
<text x="657.2" y="1249.62" class="tk2" text-anchor="end" textLength="22.99" lengthAdjust="spacingAndGlyphs">100 f</text>
<text x="657.2" y="1304.8" class="tk2" text-anchor="end" textLength="17.83" lengthAdjust="spacingAndGlyphs">10 f</text>
<text x="657.2" y="1359.98" class="tk2" text-anchor="end" textLength="12.66" lengthAdjust="spacingAndGlyphs">1 f</text>
<text x="663.9" y="1379.43" class="tk2" text-anchor="middle" textLength="18.11" lengthAdjust="spacingAndGlyphs">0.01</text>
<text x="731.32" y="1379.43" class="tk2" text-anchor="middle" textLength="12.94" lengthAdjust="spacingAndGlyphs">0.1</text>
<text x="798.74" y="1379.43" class="tk2" text-anchor="middle">1</text>
<text x="866.16" y="1379.43" class="tk2" text-anchor="middle" textLength="10.34" lengthAdjust="spacingAndGlyphs">10</text>
<text x="933.58" y="1379.43" class="tk2" text-anchor="middle" textLength="15.51" lengthAdjust="spacingAndGlyphs">100</text>
<text x="1001" y="1379.43" class="tk2" text-anchor="middle" textLength="20.68" lengthAdjust="spacingAndGlyphs">1000</text>
<text x="1070.12" y="1379.43" class="tk2" text-anchor="middle" textLength="25.84" lengthAdjust="spacingAndGlyphs">10000</text>
<text x="868.26" y="1415.63" class="ax2" text-anchor="middle" textLength="68.5" lengthAdjust="spacingAndGlyphs">频率 [ MHz ]</text>
<text transform="translate(615 1052.97) rotate(-90)" class="ax2" text-anchor="middle" textLength="31" lengthAdjust="spacingAndGlyphs">C [ F ]</text>
<text x="668.4" y="727.2" class="bt" textLength="117.5" lengthAdjust="spacingAndGlyphs">C 可测量范围</text>
</g>
</svg>
</div></body></html>
